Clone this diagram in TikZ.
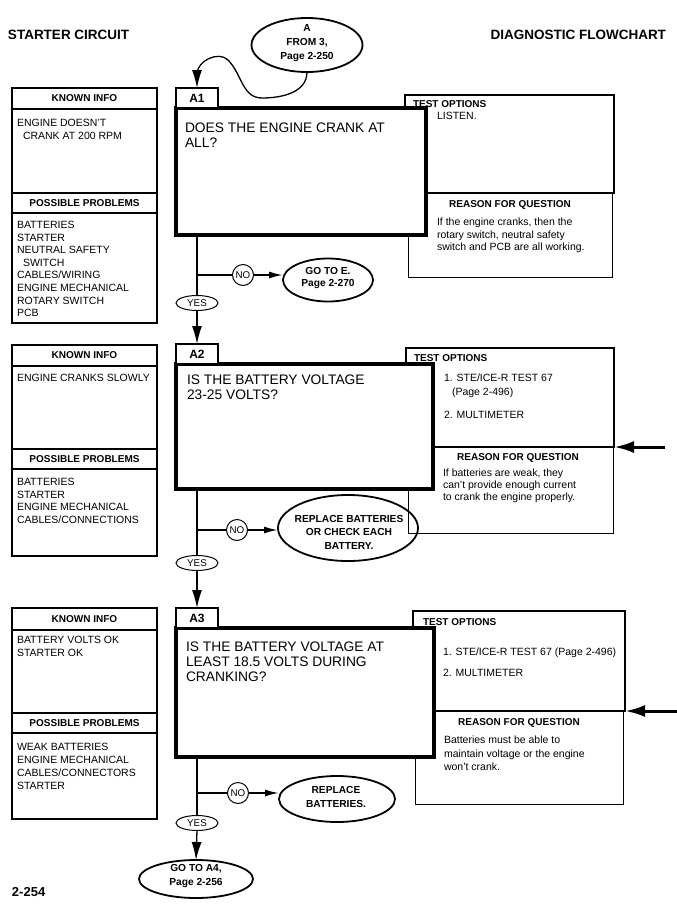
\documentclass[tikz,border=0pt]{standalone}
\usepackage{fontspec}
\setmainfont{Liberation Sans}
\usetikzlibrary{arrows.meta,shapes.geometric}
\tikzset{
  every node/.style={inner sep=0pt,outer sep=0pt},
  titletxt/.style={font=\fontsize{13.5}{16}\selectfont\bfseries},
  hdr/.style={font=\fontsize{10}{12}\selectfont\bfseries},
  body/.style={font=\fontsize{10.5}{12.6}\selectfont,align=left,anchor=north west},
  quest/.style={font=\fontsize{13.8}{15}\selectfont,align=left,anchor=north west},
  ovtxt/.style={font=\fontsize{10.2}{13.5}\selectfont\bfseries,align=center},
  infobox/.style={draw,line width=1.1pt,rectangle},
  optbox/.style={draw,line width=1.6pt,rectangle},
  rsnbox/.style={draw,line width=0.9pt,rectangle},
  qbox/.style={draw,line width=3.6pt,rectangle,fill=white},
  tabbox/.style={draw,line width=1.1pt,rectangle,fill=white,font=\fontsize{12}{14}\selectfont\bfseries},
  bubble/.style={draw,ellipse,line width=1.8pt},
  yesbub/.style={draw,ellipse,line width=1pt,fill=white,minimum width=42pt,minimum height=15pt,font=\fontsize{9.8}{10}\selectfont},
  nocirc/.style={draw,circle,line width=1pt,minimum size=21pt,font=\fontsize{9.8}{10}\selectfont},
  conn/.style={line width=1.3pt},
  downarr/.style={conn,-{Latex[length=18pt,width=10pt]}},
  noarr/.style={line width=1.8pt,-{Latex[length=14pt,width=7pt]}},
  bigarr/.style={line width=3pt,-{Latex[length=20pt,width=12pt]}},
  sepline/.style={line width=1.1pt},
}
\begin{document}
\begin{tikzpicture}[x=1pt,y=-1pt]
\useasboundingbox (0,0) rectangle (677,911);

% titles
\node[titletxt,anchor=west] (ttl1) at (8,35) {STARTER CIRCUIT};
\node[titletxt,anchor=east] (ttl2) at (666,35) {DIAGNOSTIC FLOWCHART};

% entry bubble
\node[bubble,minimum width=111pt,minimum height=54pt] (topE) at (307,45) {};
\node[ovtxt,font=\fontsize{10.2}{14}\selectfont\bfseries] (topEt) at (307,43) {A\\FROM 3,\\Page 2-250};

% ================= A1 =================
\node[infobox,minimum width=145pt,minimum height=235pt] (k1) at (84.5,205.5) {};
\draw[sepline] (12,109) -- (157,109);
\draw[sepline] (12,193) -- (157,193);
\draw[sepline] (12,213) -- (157,213);
\node[hdr] (k1h) at (84.5,98.5) {KNOWN INFO};
\node[body] (k1t) at (17,119.2) {ENGINE DOESN'T\\\hspace*{6pt}CRANK AT 200 RPM};
\node[hdr] (p1h) at (84.5,203) {POSSIBLE PROBLEMS};
\node[body] (p1t) at (17,221.2) {BATTERIES\\STARTER\\NEUTRAL SAFETY\\\hspace*{6pt}SWITCH\\CABLES/WIRING\\ENGINE MECHANICAL\\ROTARY SWITCH\\PCB};

\node[optbox,minimum width=209pt,minimum height=98pt] (to1) at (509.5,144) {};
\node[rsnbox,minimum width=204pt,minimum height=84pt] (rs1) at (510,235) {};
\node[qbox,minimum width=250pt,minimum height=127pt] (q1) at (301,171.5) {};
\node[tabbox,minimum width=42pt,minimum height=20pt] (t1) at (197,98) {A1};
\node[quest] (q1t) at (185,123.1) {DOES THE ENGINE CRANK AT\\ALL?};
\node[hdr,anchor=west] (to1h) at (413,104) {TEST OPTIONS};
\node[body,anchor=west] (to1t) at (437,116) {LISTEN.};
\node[hdr] (rs1h) at (510,205) {REASON FOR QUESTION};
\node[body,font=\fontsize{10.5}{12.5}\selectfont] (rs1t) at (437,218.2) {If the engine cranks, then the\\rotary switch, neutral safety\\switch and PCB are all working.};

\node[yesbub] (yes1) at (197,303) {YES};
\node[nocirc] (no1) at (243,275) {NO};
\node[bubble,minimum width=90pt,minimum height=43pt] (goE) at (328,280) {};
\node[ovtxt,font=\fontsize{10.2}{12}\selectfont\bfseries] (goEt) at (328,278) {GO TO E.\\Page 2-270};

\draw[-{Latex[length=18pt,width=10pt]},line width=1.3pt] (topE.south) to[out=-90,in=0] (262,98) to[out=180,in=-45] (228,60) to[out=135,in=90] (197,74) -- (t1.north);

\draw[conn] (t1 |- q1.south) -- (yes1.north);
\draw[conn] (t1 |- no1) -- (no1.west);
\draw[noarr] (no1.east) -- (goE.west |- no1);

% ================= A2 =================
\node[infobox,minimum width=145pt,minimum height=211pt] (k2) at (84.5,450.5) {};
\draw[sepline] (12,366) -- (157,366);
\draw[sepline] (12,449) -- (157,449);
\draw[sepline] (12,469) -- (157,469);
\node[hdr] (k2h) at (84.5,355.5) {KNOWN INFO};
\node[body] (k2t) at (17,374.2) {ENGINE CRANKS SLOWLY};
\node[hdr] (p2h) at (84.5,459) {POSSIBLE PROBLEMS};
\node[body,font=\fontsize{10.5}{12.7}\selectfont] (p2t) at (17,478.2) {BATTERIES\\STARTER\\ENGINE MECHANICAL\\CABLES/CONNECTIONS};

\node[optbox,minimum width=208pt,minimum height=99pt] (to2) at (510,397.5) {};
\node[rsnbox,minimum width=205pt,minimum height=86pt] (rs2) at (510.5,490) {};
\node[qbox,minimum width=257pt,minimum height=125pt] (q2) at (304.5,426.5) {};
\node[tabbox,minimum width=42pt,minimum height=20pt] (t2) at (197,354) {A2};
\node[quest] (q2t) at (187,375.1) {IS THE BATTERY VOLTAGE\\23-25 VOLTS?};
\node[hdr,anchor=west] (to2h) at (414,358) {TEST OPTIONS};
\node[body,font=\fontsize{10.5}{14}\selectfont] (to2t) at (444,374.2) {1. STE/ICE-R TEST 67\\\hspace*{8pt}(Page 2-496)};
\node[body,anchor=west] (to2u) at (444,415) {2. MULTIMETER};
\node[hdr] (rs2h) at (518,458) {REASON FOR QUESTION};
\node[body,font=\fontsize{10.5}{12}\selectfont] (rs2t) at (443,469.2) {If batteries are weak, they\\can't provide enough current\\to crank the engine properly.};
\coordinate (arr2s) at (665,447);
\draw[bigarr] (arr2s) -- (to2.south east);

\node[yesbub] (yes2) at (197,563) {YES};
\node[nocirc] (no2) at (237,530) {NO};
\node[bubble,minimum width=140pt,minimum height=66pt] (rep2) at (348,528) {};
\node[ovtxt] (rep2t) at (349,532) {REPLACE BATTERIES\\OR CHECK EACH\\BATTERY.};

\draw[downarr] (yes1.south) -- (t2.north);
\draw[conn] (t2 |- q2.south) -- (yes2.north);
\draw[conn] (t2 |- no2) -- (no2.west);
\draw[noarr] (no2.east) -- (rep2.west |- no2);

% ================= A3 =================
\node[infobox,minimum width=145pt,minimum height=211pt] (k3) at (84.5,713.5) {};
\draw[sepline] (12,630) -- (157,630);
\draw[sepline] (12,713) -- (157,713);
\draw[sepline] (12,733) -- (157,733);
\node[hdr] (k3h) at (84.5,619) {KNOWN INFO};
\node[body,font=\fontsize{10.5}{13}\selectfont] (k3t) at (17,636.2) {BATTERY VOLTS OK\\STARTER OK};
\node[hdr] (p3h) at (84.5,723) {POSSIBLE PROBLEMS};
\node[body,font=\fontsize{10.5}{13}\selectfont] (p3t) at (17,743.2) {WEAK BATTERIES\\ENGINE MECHANICAL\\CABLES/CONNECTORS\\STARTER};

\node[optbox,minimum width=212pt,minimum height=100pt] (to3) at (519,661) {};
\node[rsnbox,minimum width=208pt,minimum height=93pt] (rs3) at (519,757.5) {};
\node[qbox,minimum width=258pt,minimum height=129pt] (q3) at (305,692.5) {};
\node[tabbox,minimum width=42pt,minimum height=20pt] (t3) at (197,618) {A3};
\node[quest] (q3t) at (186,642.1) {IS THE BATTERY VOLTAGE AT\\LEAST 18.5 VOLTS DURING\\CRANKING?};
\node[hdr,anchor=west] (to3h) at (423,622) {TEST OPTIONS};
\node[body,anchor=west] (to3t) at (443,653) {1. STE/ICE-R TEST 67 (Page 2-496)};
\node[body,anchor=west] (to3u) at (443,673) {2. MULTIMETER};
\node[hdr] (rs3h) at (519,723) {REASON FOR QUESTION};
\node[body,font=\fontsize{10.5}{13.5}\selectfont] (rs3t) at (444,736.2) {Batteries must be able to\\maintain voltage or the engine\\won't crank.};
\coordinate (arr3s) at (677,711);
\draw[bigarr] (arr3s) -- (to3.south east);

\node[yesbub] (yes3) at (197,823) {YES};
\node[nocirc] (no3) at (238,793) {NO};
\node[bubble,minimum width=116pt,minimum height=46pt] (rep3) at (337,799) {};
\node[ovtxt,font=\fontsize{10.2}{14}\selectfont\bfseries] (rep3t) at (336,797) {REPLACE\\BATTERIES.};
\node[bubble,minimum width=114pt,minimum height=38pt] (goA4) at (196,879) {};
\node[ovtxt,font=\fontsize{10.2}{14}\selectfont\bfseries] (goA4t) at (196,876) {GO TO A4,\\Page 2-256};

\draw[downarr] (yes2.south) -- (t3.north);
\draw[conn] (t3 |- q3.south) -- (yes3.north);
\draw[conn] (t3 |- no3) -- (no3.west);
\draw[noarr] (no3.east) -- (rep3.west |- no3);
\draw[downarr] (yes3.south) -- (goA4.north);

% page number
\node[titletxt,font=\fontsize{13}{15}\selectfont\bfseries,anchor=west] (pg) at (12,892) {2-254};
\end{tikzpicture}
\end{document}
